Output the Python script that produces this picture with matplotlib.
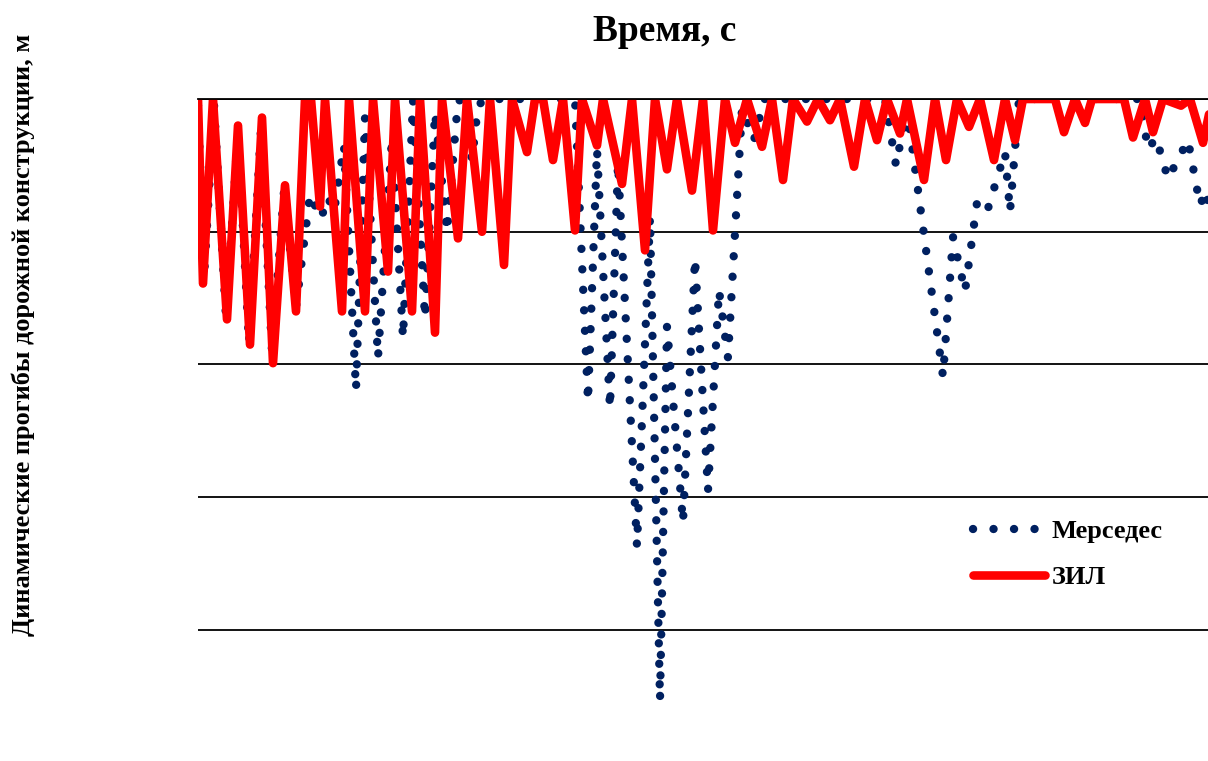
import matplotlib
matplotlib.use("Agg")
import matplotlib.pyplot as plt

plt.rcParams["font.family"] = ["Liberation Serif", "DejaVu Serif"]
plt.rcParams["font.weight"] = "bold"

# time, s  (turning points)
merc_t = [0.000, 0.012, 0.032, 0.056, 0.080, 0.102, 0.126, 0.148, 0.172, 0.196,
          0.224, 0.246, 0.260, 0.272, 0.292, 0.316, 0.334, 0.360, 0.388, 0.410,
          0.430, 0.454, 0.474, 0.498, 0.520, 0.532, 0.548, 0.560, 0.574, 0.754,
          0.780, 0.798, 0.824, 0.840, 0.878, 0.904, 0.924, 0.938, 0.970, 0.994,
          1.020, 1.042, 1.060, 1.088, 1.112, 1.132, 1.374, 1.396, 1.418, 1.490,
          1.510, 1.534, 1.558, 1.578, 1.614, 1.624, 1.642, 1.884, 1.900, 1.916,
          1.940, 1.980, 2.004, 2.016, 2.024]
merc_y = [-0.05, -1.35, -0.04, -1.65, -0.25, -1.84, -0.22, -1.91, -0.69, -1.57,
          -0.72, -0.90, -0.74, -0.85, -0.35, -2.19, -0.14, -1.95, -0.29, -1.80,
          -0.01, -1.65, -0.10, -1.00, -0.01, -0.01, -0.46, -0.05, 0.00, 0.00,
          -2.28, -0.38, -2.33, -0.48, -3.37, -0.89, -4.53, -1.71, -3.19, -1.20,
          -2.95, -1.44, -1.95, -0.07, -0.31, 0.00, 0.00, -0.50, -0.07, -2.09,
          -1.04, -1.45, -0.78, -0.85, -0.40, -0.85, 0.00, 0.00, -0.38, -0.29,
          -0.60, -0.31, -0.80, -0.69, -0.87]

zil_t = [0.000, 0.010, 0.030, 0.058, 0.080, 0.104, 0.128, 0.150, 0.174, 0.196,
         0.214, 0.226, 0.244, 0.254, 0.288, 0.302, 0.334, 0.350, 0.380, 0.394,
         0.428, 0.444, 0.474, 0.488, 0.520, 0.538, 0.568, 0.584, 0.612, 0.628,
         0.658, 0.674, 0.690, 0.710, 0.730, 0.754, 0.768, 0.798, 0.810, 0.848,
         0.868, 0.894, 0.914, 0.938, 0.958, 0.988, 1.010, 1.030, 1.054, 1.074,
         1.098, 1.128, 1.148, 1.170, 1.190, 1.218, 1.240, 1.264, 1.284, 1.312,
         1.334, 1.358, 1.378, 1.404, 1.418, 1.452, 1.474, 1.496, 1.518, 1.542,
         1.564, 1.592, 1.614, 1.634, 1.650, 1.714, 1.732, 1.754, 1.774, 1.788,
         1.852, 1.870, 1.894, 1.910, 1.930, 1.966, 1.984, 2.010, 2.024]
zil_y = [0.00, -1.39, 0.00, -1.66, -0.20, -1.85, -0.14, -1.99, -0.65, -1.60,
         0.00, 0.00, -0.81, 0.00, -1.60, 0.00, -1.60, 0.00, -1.30, 0.00,
         -1.60, 0.00, -1.76, 0.00, -1.05, 0.00, -1.00, 0.00, -1.25, 0.00,
         -0.40, 0.00, 0.00, -0.46, 0.00, -0.99, 0.00, -0.35, 0.00, -0.64,
         0.00, -1.14, 0.00, -0.53, 0.00, -0.69, 0.00, -0.99, 0.00, -0.33,
         0.00, -0.36, 0.00, -0.61, 0.00, -0.17, 0.00, -0.16, 0.00, -0.51,
         0.00, -0.31, 0.00, -0.26, 0.00, -0.61, 0.00, -0.46, 0.00, -0.21,
         0.00, -0.46, 0.00, -0.31, 0.00, 0.00, -0.25, 0.00, -0.18, 0.00,
         0.00, -0.29, 0.00, -0.25, 0.00, -0.05, 0.00, -0.33, -0.08]

fig = plt.figure(figsize=(12.08, 7.61), dpi=100)
ax = fig.add_axes([198 / 1208, 0.0, 1010 / 1208, 662 / 761])

ax.plot(merc_t, merc_y, color="#002060", lw=6,
        linestyle=(0, (0.01, 2.45)), dash_capstyle="round", label="Мерседес")
ax.plot(zil_t, zil_y, color="#ff0000", lw=6.2,
        solid_joinstyle="round", solid_capstyle="round", label="ЗИЛ")

ax.set_xlim(0, 2.02)
ax.set_ylim(-4.987, 0)
ax.set_yticks([-4, -3, -2, -1, 0])
ax.set_xticks([])
ax.yaxis.grid(True, color="black", lw=1.3)
ax.tick_params(left=False, labelleft=False)
for s in ["left", "right", "bottom"]:
    ax.spines[s].set_visible(False)
ax.spines["top"].set_linewidth(1.3)

fig.text(0.5505, 0.959, "Время, с", ha="center", va="center",
         fontsize=27, fontweight="bold")
fig.text(0.019, 0.56, "Динамические прогибы дорожной конструкции, м",
         rotation=90, ha="center", va="center", fontsize=19, fontweight="bold")

leg = ax.legend(loc="center left", bbox_to_anchor=(0.7436, 0.3125), frameon=False,
                handlelength=2.75, handletextpad=0.25, labelspacing=0.85,
                prop={"weight": "bold", "size": 19})

fig.savefig("out.png", dpi=100)
